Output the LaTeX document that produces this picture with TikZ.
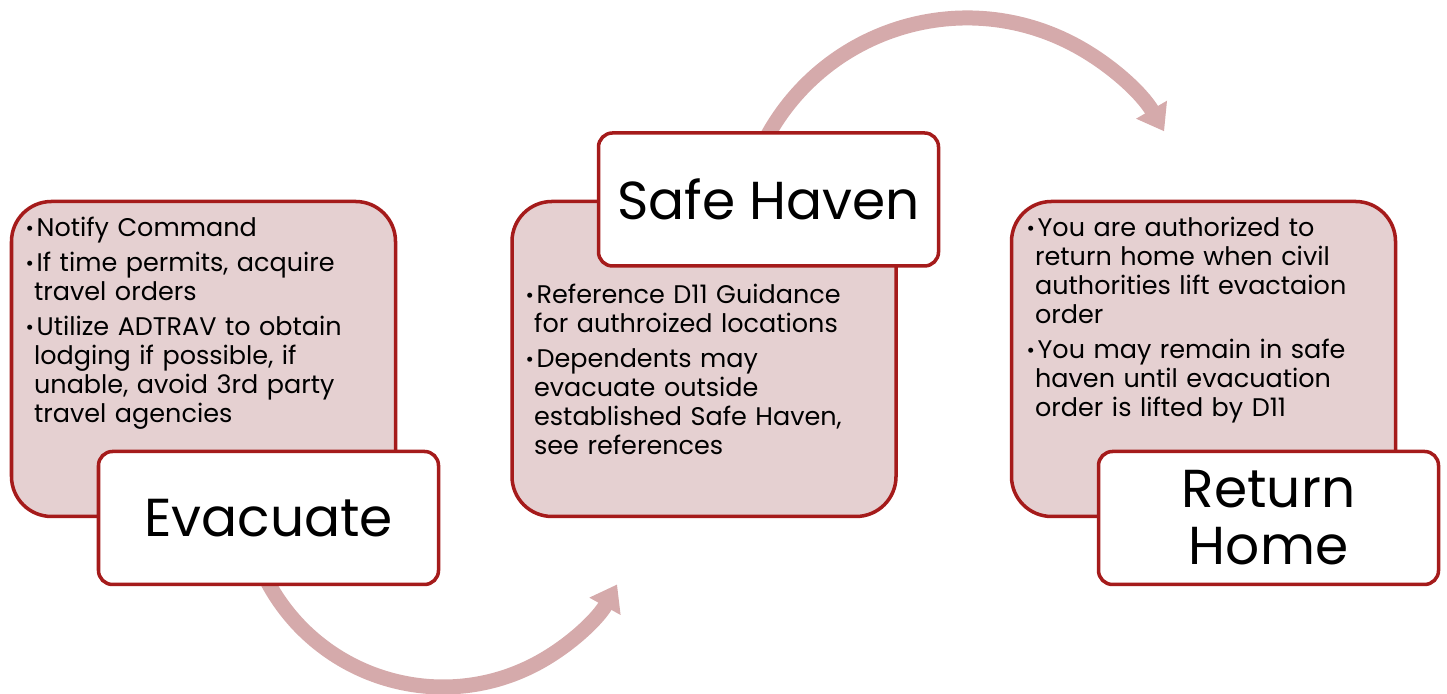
\documentclass[tikz,border=0pt]{standalone}
\usepackage{fontspec}
\setmainfont{Poppins}
\usetikzlibrary{arrows.meta}
\definecolor{edgered}{RGB}{165,27,27}
\definecolor{panelpink}{RGB}{229,208,209}
\definecolor{arcpink}{RGB}{213,170,171}
\newcommand{\bitem}{\par\hangindent=2.4pt\hangafter=1\noindent
    \makebox[3.1pt][l]{\raisebox{0.35pt}{\scalebox{0.8}{\textbullet}}}}

\begin{document}
\begin{tikzpicture}[
                    panel/.style={draw=edgered, fill=panelpink, line width=1pt, rounded corners=0.4cm,
                                  minimum width=3.84cm, minimum height=3.15cm},
                    title/.style={draw=edgered, fill=white, line width=1pt, rounded corners=0.14cm,
                                  minimum width=3.40cm, minimum height=1.33cm, align=center,
                                  font=\fontsize{15.2}{16.2}\selectfont},
                    notes/.style={anchor=north west, inner sep=0, text width=3.8cm, align=left,
                                  font=\fontsize{7.25}{8.25}\selectfont\setlength{\parskip}{1.7pt}},
                    cyclearrow/.style={draw=arcpink, line width=0.15cm,
                                       -{Triangle[length=0.25cm,width=0.34cm]}}]
                \useasboundingbox (0,0) rectangle (14.47,6.94);

                \coordinate (evacout) at (2.673,1.126);
                \coordinate (havenout) at (7.639,5.515);
                \draw [cyclearrow] (evacout) arc [start angle=208, end angle=331, radius=1.99cm];
                \draw [cyclearrow] (havenout) arc [start angle=153, end angle=30.2, radius=2.28cm];

                \node (p1) [panel] at (2.035,3.35) {};
                \node (p2) [panel] at (7.04,3.35) {};
                \node (p3) [panel] at (12.035,3.35) {};

                \node (n1) [notes] at (0.25,4.93) {%
                    \bitem Notify Command
                    \bitem If time permits, acquire\newline travel orders
                    \bitem Utilize ADTRAV to obtain\newline lodging if possible, if\newline unable, avoid 3rd party\newline travel agencies\par};
                \node (n2) [notes] at (5.25,4.26) {%
                    \bitem Reference D11 Guidance\newline for authroized locations
                    \bitem Dependents may\newline evacuate outside\newline established Safe Haven,\newline see references\par};
                \node (n3) [notes] at (10.26,4.93) {%
                    \bitem You are authorized to\newline return home when civil\newline authorities lift evactaion\newline order
                    \bitem You may remain in safe\newline haven until evacuation\newline order is lifted by D11\par};

                \node (evac) [title] at (2.685,1.76) {Evacuate};
                \node (haven) [title] at (7.685,4.945) {Safe Haven};
                \node (home) [title] at (12.685,1.76) {Return\\Home};
            \end{tikzpicture}
\end{document}
